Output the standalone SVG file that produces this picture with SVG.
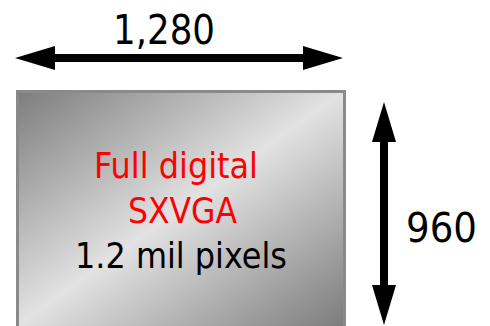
<svg xmlns="http://www.w3.org/2000/svg" width="490" height="326" viewBox="0 0 490 326">
<style>
.lbl{font-family:"DejaVu Sans","Liberation Sans",sans-serif;fill:#000}
.red{fill:#ff0000}
.dim{stroke:#000;stroke-width:8;fill:none}
</style>
<defs>
<linearGradient id="g" gradientUnits="userSpaceOnUse" x1="69" y1="52" x2="293" y2="364">
<stop offset="0" stop-color="#7c7c7c"/>
<stop offset="0.5" stop-color="#e2e2e2"/>
<stop offset="1" stop-color="#7c7c7c"/>
</linearGradient>
<marker id="ah" markerUnits="userSpaceOnUse" markerWidth="40" markerHeight="24" viewBox="0 0 40 24" refX="0" refY="12" orient="auto-start-reverse">
<path d="M0,0 L40,12 L0,24 z" fill="#000"/>
</marker>
</defs>
<g id="screen">
<rect x="17.5" y="91.5" width="327" height="260" fill="url(#g)" stroke="#8a8a8a" stroke-width="3"/>
<text class="lbl red" x="94" y="178" font-size="35" textLength="164" lengthAdjust="spacingAndGlyphs">Full digital</text>
<text class="lbl red" x="128" y="223" font-size="35" textLength="109" lengthAdjust="spacingAndGlyphs">SXVGA</text>
<text class="lbl" x="75" y="268" font-size="35" textLength="212" lengthAdjust="spacingAndGlyphs">1.2 mil pixels</text>
</g>
<g id="connectors">
<line class="dim" x1="55" y1="58" x2="303" y2="58" marker-start="url(#ah)" marker-end="url(#ah)"/>
<line class="dim" x1="384" y1="142" x2="384" y2="285" marker-start="url(#ah)" marker-end="url(#ah)"/>
</g>
<g id="width-label">
<text class="lbl" x="113" y="44" font-size="40" textLength="102" lengthAdjust="spacingAndGlyphs">1,280</text>
</g>
<g id="height-label">
<text class="lbl" x="406" y="242" font-size="40" textLength="71" lengthAdjust="spacingAndGlyphs">960</text>
</g>
</svg>
